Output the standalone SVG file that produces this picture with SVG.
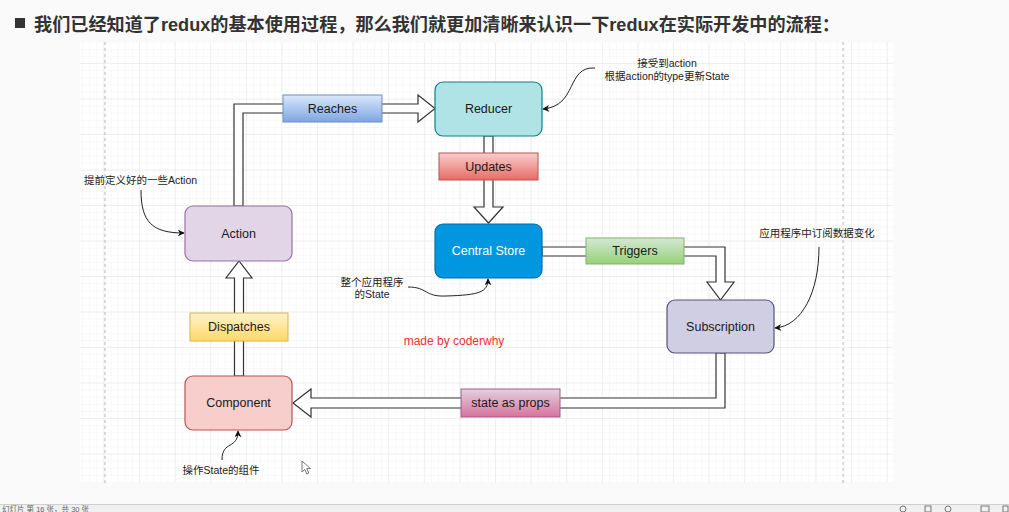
<svg xmlns="http://www.w3.org/2000/svg" width="1009" height="512" viewBox="0 0 1009 512">
<defs>
<style>
.t{font-family:"Liberation Sans","Noto Sans CJK SC",sans-serif;}
.node{stroke-width:1.2;}
.nt{font-size:12.5px;fill:#1a1a1a;text-anchor:middle;dominant-baseline:central;}
.ann{font-family:"Liberation Sans","Noto Sans CJK SC",sans-serif;font-size:10.5px;fill:#222;text-anchor:middle;}
.shaft{fill:#fff;stroke:#333;stroke-width:1.2;stroke-linejoin:miter;}
.curve{fill:none;stroke:#222;stroke-width:1;marker-end:url(#ah);}
</style>
<pattern id="minor" patternUnits="userSpaceOnUse" x="33.2" y="28.5" width="7.12" height="7.1">
<path d="M7.12 0V7.1M0 7.1H7.12" fill="none" stroke="#f3f3f3" stroke-width="1"/>
</pattern>
<pattern id="major" patternUnits="userSpaceOnUse" x="33.2" y="28.5" width="35.6" height="35.5">
<path d="M35.6 0V35.5M0 35.5H35.6" fill="none" stroke="#e6e6e6" stroke-width="1"/>
</pattern>
<marker id="ah" viewBox="0 0 10 10" refX="9" refY="5" markerWidth="7" markerHeight="7" orient="auto" markerUnits="userSpaceOnUse">
<path d="M0,0L10,5L0,10L3,5Z" fill="#111"/>
</marker>
<linearGradient id="gBlue" x1="0" y1="0" x2="0" y2="1"><stop offset="0" stop-color="#dae8fc"/><stop offset="1" stop-color="#7ea6e0"/></linearGradient>
<linearGradient id="gRed" x1="0" y1="0" x2="0" y2="1"><stop offset="0" stop-color="#f8cecc"/><stop offset="1" stop-color="#ea6b66"/></linearGradient>
<linearGradient id="gGreen" x1="0" y1="0" x2="0" y2="1"><stop offset="0" stop-color="#d5e8d4"/><stop offset="1" stop-color="#97d077"/></linearGradient>
<linearGradient id="gYellow" x1="0" y1="0" x2="0" y2="1"><stop offset="0" stop-color="#fff2cc"/><stop offset="1" stop-color="#ffd966"/></linearGradient>
<linearGradient id="gPink" x1="0" y1="0" x2="0" y2="1"><stop offset="0" stop-color="#e6d0de"/><stop offset="1" stop-color="#d5739d"/></linearGradient>
</defs>

<rect x="0" y="0" width="1009" height="512" fill="#fafafa"/>

<!-- title -->
<g id="title">
<rect x="15" y="18" width="10" height="10" fill="#333"/>
<text class="t" x="34" y="30.5" font-size="18" font-weight="bold" fill="#333" textLength="806" lengthAdjust="spacingAndGlyphs">我们已经知道了redux的基本使用过程，那么我们就更加清晰来认识一下redux在实际开发中的流程：</text>
</g>

<!-- canvas grid -->
<g id="canvas">
<rect x="80" y="42" width="813" height="441" fill="#fff"/>
<rect x="80" y="42" width="813" height="441" fill="url(#minor)"/>
<rect x="80" y="42" width="813" height="441" fill="url(#major)"/>
<line x1="105" y1="42" x2="105" y2="483" stroke="#b8b8b8" stroke-dasharray="3,3"/>
<line x1="843" y1="42" x2="843" y2="483" stroke="#b8b8b8" stroke-dasharray="3,3"/>
</g>

<!-- connectors -->
<g id="connectors">
<path class="shaft" d="M234,206V104H418V95L435,108.5L418,122V113H243V206Z"/>
<path class="shaft" d="M484,136V207H474L488.5,223L503,207H493V136Z"/>
<path class="shaft" d="M542,247H725V282H734L720.5,300L707,282H716V256H542Z"/>
<path class="shaft" d="M725,353V408H311V417L293,403L311,389V398H716V353Z"/>
<path class="shaft" d="M234.5,376V278H226L239,261L252,278H243.5V376Z"/>
<path class="curve" d="M141,190C141,222 152,233 184,233"/>
<path class="curve" d="M595,68C566,66 578,106 543,109"/>
<path class="curve" d="M408,287C428,287 424,297 446,296C480,295 488,292 488,279"/>
<path class="curve" d="M819,247C819,292 802,326 775,328"/>
<path class="curve" d="M222,460C222,440 238,450 238,431"/>
</g>

<!-- edge labels -->
<g id="label-reaches"><rect x="283" y="95" width="99" height="27" fill="url(#gBlue)" stroke="#6c8ebf"/><text class="t nt" x="332.5" y="108.5">Reaches</text></g>
<g id="label-updates"><rect x="439" y="153" width="99" height="27" fill="url(#gRed)" stroke="#b85450"/><text class="t nt" x="488.5" y="166.5">Updates</text></g>
<g id="label-triggers"><rect x="586" y="238" width="98" height="26" fill="url(#gGreen)" stroke="#82b366"/><text class="t nt" x="635" y="251">Triggers</text></g>
<g id="label-dispatches"><rect x="190" y="313" width="98" height="28" fill="url(#gYellow)" stroke="#d6b656"/><text class="t nt" x="239" y="327">Dispatches</text></g>
<g id="label-props"><rect x="461" y="389" width="99" height="28" fill="url(#gPink)" stroke="#996185"/><text class="t nt" x="510.5" y="403">state as props</text></g>

<!-- nodes -->
<g id="node-reducer"><rect class="node" x="435" y="82" width="107" height="54" rx="8" fill="#b0e3e6" stroke="#0e8088"/><text class="t nt" x="488.5" y="109">Reducer</text></g>
<g id="node-store"><rect class="node" x="435" y="224" width="107" height="54" rx="8" fill="#0096e0" stroke="#006eaf"/><text class="t nt" x="488.5" y="251" style="fill:#fff">Central Store</text></g>
<g id="node-action"><rect class="node" x="185" y="206" width="107" height="55" rx="8" fill="#e1d5e7" stroke="#9673a6"/><text class="t nt" x="238.5" y="233.5">Action</text></g>
<g id="node-subscription"><rect class="node" x="667" y="300" width="107" height="53" rx="8" fill="#d0cee2" stroke="#56517e"/><text class="t nt" x="720.5" y="327">Subscription</text></g>
<g id="node-component"><rect class="node" x="185" y="376" width="107" height="54" rx="8" fill="#f8cecc" stroke="#b85450"/><text class="t nt" x="238.5" y="403">Component</text></g>

<!-- annotations -->
<g id="notes">
<text class="ann" x="140.5" y="184">提前定义好的一些Action</text>
<text class="ann" x="667" y="67">接受到action</text>
<text class="ann" x="667" y="80">根据action的type更新State</text>
<text class="ann" x="372" y="286">整个应用程序</text>
<text class="ann" x="372" y="298">的State</text>
<text class="ann" x="817" y="237">应用程序中订阅数据变化</text>
<text class="ann" x="221" y="474">操作State的组件</text>
<text class="t" x="454" y="345" font-size="12" fill="#f03030" text-anchor="middle">made by coderwhy</text>
</g>

<!-- mouse cursor -->
<path d="M302,461V472L304.8,469.4L306.8,474L308.8,473.1L306.8,468.6H310.5Z" fill="#fff" stroke="#555" stroke-width="0.8"/>

<!-- status bar -->
<g id="statusbar">
<rect x="0" y="504" width="1009" height="8" fill="#f0f0f0"/>
<line x1="0" y1="504.5" x2="1009" y2="504.5" stroke="#cfcfcf"/>
<text class="t" x="2" y="511.5" font-size="7.5" fill="#666">幻灯片 第 16 张，共 30 张</text>
<circle cx="903" cy="509" r="3" fill="none" stroke="#777"/>
<rect x="925" y="506" width="6" height="6" fill="none" stroke="#777"/>
<circle cx="948" cy="509" r="3" fill="none" stroke="#777"/>
<rect x="981" y="506" width="8" height="6" fill="none" stroke="#777"/>
<rect x="1003" y="506" width="5" height="6" fill="none" stroke="#777"/>
</g>
</svg>
